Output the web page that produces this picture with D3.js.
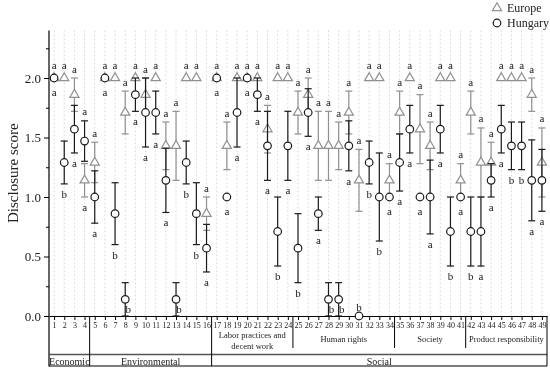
<!DOCTYPE html>
<meta charset="utf-8">
<script src="https://d3js.org/d3.v7.min.js"></script>
<style>
  body { margin: 0; background: #fff; }
  svg { will-change: transform; }
  text { font-family: "Liberation Serif", "Times New Roman", serif; fill: #222; }
</style>
<div id="chart"></div>
<script>
// indicators 1..49
var indicators = d3.range(1, 50);
var europeMean = [2.0, 2.0, 1.86, 1.14, 1.29, 2.0, 2.0, 1.71, 2.0, 1.86,
                  2.0, 1.43, 1.43, 2.0, 2.0, 0.86, 2.0, 1.43, 2.0, 2.0,
                  2.0, 1.57, 2.0, 2.0, 1.71, 1.86, 1.43, 1.43, 1.43, 1.71,
                  1.14, 2.0, 2.0, 1.14, 1.71, 2.0, 1.57, 1.43, 2.0, 2.0,
                  1.14, 1.71, 1.29, 1.29, 2.0, 2.0, 2.0, 1.86, 1.29];
var europeErr = [0, 0, 0.14, 0.14, 0.17, 0, 0, 0.18, 0, 0.14,
                 0, 0.2, 0.29, 0, 0, 0.14, 0, 0.2, 0, 0,
                 0, 0.2, 0, 0, 0.18, 0.14, 0.29, 0.29, 0.2, 0.18,
                 0.26, 0, 0, 0.14, 0.18, 0, 0.29, 0.2, 0, 0,
                 0.14, 0.18, 0.29, 0.17, 0, 0, 0, 0.14, 0.29];
var hungaryMean = [2.0, 1.29, 1.57, 1.47, 1.0, 2.0, 0.86, 0.14, 1.86, 1.71,
                   1.71, 1.14, 0.14, 1.29, 0.86, 0.57, 2.0, 1.0, 1.71, 2.0,
                   1.86, 1.43, 0.71, 1.43, 0.57, 1.71, 0.86, 0.14, 0.14, 1.43,
                   0, 1.29, 1.0, 1.0, 1.29, 1.57, 1.0, 1.0, 1.57, 0.71,
                   1.0, 0.71, 0.71, 1.14, 1.57, 1.43, 1.43, 1.14, 1.14];
var hungaryErr = [0, 0.18, 0.2, 0.17, 0.22, 0, 0.26, 0.14, 0.14, 0.29,
                  0.18, 0.27, 0.14, 0.18, 0.26, 0.2, 0, 0, 0.29, 0,
                  0.14, 0.29, 0.29, 0.29, 0.29, 0.2, 0.14, 0.14, 0.14, 0.21,
                  0, 0.18, 0.37, 0, 0.24, 0.2, 0, 0.31, 0.2, 0.29,
                  0, 0.29, 0.29, 0.14, 0.2, 0.2, 0.2, 0.34, 0.26];
var hungaryLetter = ["a","b","a","a","a","a","b","b","a","a",
                     "a","a","b","b","b","a","a","a","a","a",
                     "a","a","b","a","b","a","a","b","b","a",
                     "b","b","b","a","a","a","a","a","a","b",
                     "a","b","a","a","a","b","b","a","a"];
var europeLetter = "a";
var yTicks = [0, 0.5, 1.0, 1.5, 2.0];
var yMinorTicks = [0.25, 0.75, 1.25, 1.75, 2.25];
var seriesNames = ["Europe", "Hungary"];
var categories = [{name: "Economic", from: 1, to: 4},
                  {name: "Environmental", from: 5, to: 16},
                  {name: "Social", from: 17, to: 49}];
var subCategories = [{name: ["Labor practices and", "decent work"], from: 17, to: 24},
                     {name: ["Human rights"], from: 25, to: 34},
                     {name: ["Society"], from: 35, to: 41},
                     {name: ["Product responsibility"], from: 42, to: 49}];

var width = 550, height = 370;
var plotLeft = 49, plotRight = 547, plotTop = 30.4, plotBottom = 316;
var euroColor = "#909090", hunColor = "#1a1a1a";
var circleR = 3.8, triSize = 36;

var svg = d3.select("#chart").append("svg")
    .attr("width", width).attr("height", height);

var x = d3.scaleLinear().domain([0.5, 49.5]).range([plotLeft, plotRight]);
var y = d3.scaleLinear().domain([0, 2.4]).range([plotBottom, plotTop]);

// vertical dotted grid
svg.append("g").selectAll("line").data(indicators).enter().append("line")
    .attr("x1", d => x(d)).attr("x2", d => x(d))
    .attr("y1", y(2.4)).attr("y2", y(0))
    .attr("stroke", "#dcdcdc").attr("stroke-width", 1)
    .attr("stroke-dasharray", "2,2");

// y axis
var yAxis = svg.append("g").attr("transform", "translate(" + plotLeft + ",0)")
    .call(d3.axisLeft(y).tickValues(yTicks).tickFormat(d3.format(".1f"))
      .tickSize(5).tickSizeOuter(0).tickPadding(3));
yAxis.select(".domain").remove();
yAxis.selectAll("text").style("font-size", "13px")
    .style("font-family", "'Liberation Serif', serif");
svg.append("g").attr("transform", "translate(" + plotLeft + ",0)")
    .call(d3.axisLeft(y).tickValues(yMinorTicks).tickFormat("").tickSize(3).tickSizeOuter(0))
    .select(".domain").remove();
svg.append("line").attr("x1", plotLeft).attr("x2", plotLeft)
    .attr("y1", plotTop).attr("y2", 366.5).attr("stroke", "#000").attr("stroke-width", 1.2);

svg.append("text")
    .attr("transform", "translate(13," + ((plotTop + plotBottom) / 2) + ") rotate(-90)")
    .attr("text-anchor", "middle").attr("dominant-baseline", "central")
    .style("font-size", "15px").text("Disclosure score");

// x axis
var xAxis = svg.append("g").attr("transform", "translate(0," + plotBottom + ")")
    .call(d3.axisBottom(x).tickValues(indicators).tickSize(4).tickSizeOuter(0).tickPadding(2));
xAxis.select(".domain").attr("stroke-width", 1.2);
xAxis.selectAll("text").style("font-size", "8px")
    .style("font-family", "'Liberation Serif', serif");

// category table below axis
var tbl = svg.append("g").attr("stroke", "#000").attr("stroke-width", 1);
tbl.append("line").attr("x1", plotLeft).attr("x2", plotRight).attr("y1", 354.5).attr("y2", 354.5)
    .attr("stroke", "#555").attr("stroke-width", 1.5);
tbl.append("line").attr("x1", plotLeft).attr("x2", plotRight).attr("y1", 366).attr("y2", 366)
    .attr("stroke-width", 1.2);
tbl.append("line").attr("x1", plotRight).attr("x2", plotRight).attr("y1", plotBottom).attr("y2", 366);
tbl.selectAll(".cat").data(categories.slice(1)).enter().append("line")
    .attr("x1", d => x(d.from - 0.5)).attr("x2", d => x(d.from - 0.5))
    .attr("y1", plotBottom).attr("y2", 366);
tbl.selectAll(".sub").data(subCategories.slice(1)).enter().append("line")
    .attr("x1", d => x(d.from - 0.5)).attr("x2", d => x(d.from - 0.5))
    .attr("y1", plotBottom).attr("y2", 348);

svg.selectAll(".catLabel").data(categories).enter().append("text")
    .attr("x", d => (x(d.from - 0.5) + x(d.to + 0.5)) / 2).attr("y", 361)
    .attr("text-anchor", "middle").attr("dominant-baseline", "central")
    .style("font-size", "10px").text(d => d.name);

subCategories.forEach(function(s) {
  var cx = (x(s.from - 0.5) + x(s.to + 0.5)) / 2;
  var y0 = s.name.length > 1 ? 335 : 339;
  s.name.forEach(function(line, k) {
    svg.append("text").attr("x", cx).attr("y", y0 + k * 10.5)
      .attr("text-anchor", "middle").attr("dominant-baseline", "central")
      .style("font-size", "8.5px").text(line);
  });
});

// error bars
function drawBars(means, errs, color) {
  var g = svg.append("g").attr("stroke", color).attr("stroke-width", 1.2);
  indicators.forEach(function(d, i) {
    if (errs[i] <= 0) return;
    var lo = Math.max(0, means[i] - errs[i]), hi = means[i] + errs[i];
    g.append("line").attr("x1", x(d)).attr("x2", x(d)).attr("y1", y(lo)).attr("y2", y(hi));
    [lo, hi].forEach(function(v) {
      g.append("line").attr("x1", x(d) - 3.5).attr("x2", x(d) + 3.5)
        .attr("y1", y(v)).attr("y2", y(v));
    });
  });
}

drawBars(europeMean, europeErr, euroColor);
svg.append("g").selectAll("path").data(indicators).enter().append("path")
    .attr("d", d3.symbol(d3.symbolTriangle, triSize))
    .attr("transform", (d, i) => "translate(" + x(d) + "," + y(europeMean[i]) + ")")
    .attr("fill", "#fff").attr("stroke", euroColor).attr("stroke-width", 1.2);

drawBars(hungaryMean, hungaryErr, hunColor);
svg.append("g").selectAll("circle").data(indicators).enter().append("circle")
    .attr("cx", d => x(d)).attr("cy", (d, i) => y(hungaryMean[i])).attr("r", circleR)
    .attr("fill", "#fff").attr("stroke", hunColor).attr("stroke-width", 1.2);

// significance letters: higher series above, lower series below
var letters = svg.append("g").style("font-size", "11px")
    .attr("text-anchor", "middle").attr("dominant-baseline", "central");
indicators.forEach(function(d, i) {
  var eUp = europeMean[i] >= hungaryMean[i];
  var items = [
    {m: europeMean[i], e: europeErr[i], t: europeLetter, up: eUp},
    {m: hungaryMean[i], e: hungaryErr[i], t: hungaryLetter[i], up: !eUp}
  ];
  items.forEach(function(it) {
    var px = x(d), py;
    if (it.up) {
      py = Math.min(y(it.m + it.e), y(it.m) - 3.5) - 9.5;
    } else if (it.m - it.e < 0.05) {
      if (it.m < 0.05) { py = y(0) - 9.5; }
      else { px += 3; py = y(0) - 7.5; }
    } else {
      py = Math.max(y(it.m - it.e), y(it.m) + 3.5) + 10;
    }
    letters.append("text").attr("x", px).attr("y", py).text(it.t);
  });
});

// legend
var legend = svg.append("g");
legend.append("path").attr("d", d3.symbol(d3.symbolTriangle, triSize))
    .attr("transform", "translate(497,8)")
    .attr("fill", "#fff").attr("stroke", euroColor).attr("stroke-width", 1.2);
legend.append("circle").attr("cx", 497).attr("cy", 23).attr("r", circleR)
    .attr("fill", "#fff").attr("stroke", hunColor).attr("stroke-width", 1.2);
legend.selectAll("text").data(seriesNames).enter().append("text")
    .attr("x", 507).attr("y", (d, i) => 8 + i * 15)
    .attr("dominant-baseline", "central").style("font-size", "12px").text(d => d);
</script>
